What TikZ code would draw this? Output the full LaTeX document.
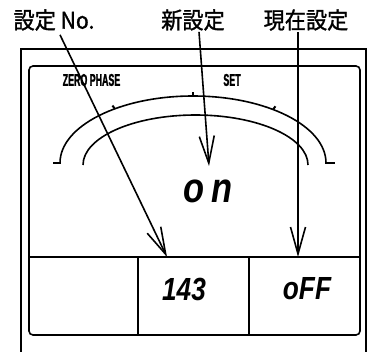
\documentclass[tikz,border=0pt]{standalone}
\usepackage{fontspec}
\usetikzlibrary{arrows.meta}
\newfontfamily\jpfont[FakeStretch=0.92,FakeBold=1.2]{Noto Sans CJK JP}
\newfontfamily\tagfont[FakeStretch=0.52,FakeBold=1.5]{Liberation Sans}
\newfontfamily\lcdfont[FakeStretch=0.82]{Liberation Sans}

\begin{document}
\begin{tikzpicture}[x=1pt,y=1pt,>={Straight Barb[length=27pt,width=15pt]},
lbl/.style={inner sep=0pt,font=\jpfont\fontsize{23}{23}\selectfont},
tag/.style={inner sep=0pt,font=\tagfont\bfseries\fontsize{17}{17}\selectfont},
lcd/.style={inner sep=0pt,font=\lcdfont\bfseries\itshape\fontsize{32}{32}\selectfont},
ln/.style={line width=1.6pt},
ptr/.style={->,line width=1.6pt}]
\useasboundingbox (0,0) rectangle (369,351);
% panel frame
\draw[ln] (21,-5) -- (21,302) -- (366,302) -- (366,-5);
\draw[ln,rounded corners=4pt] (29,16) rectangle (360,285);
\draw[ln] (29,94) -- (360,94);
\draw[ln] (138,94) -- (138,16);
\draw[ln] (249,94) -- (249,16);
% scale arcs
\draw[ln] (60,188) arc[start angle=180,end angle=0,x radius=133pt,y radius=67pt];
\draw[line width=2.6pt] (53,188) -- (61,188);
\draw[line width=2.6pt] (325,188) -- (335,188);
\draw[ln] (83,186) arc[start angle=180,end angle=0,x radius=112.5pt,y radius=50pt];
\foreach \t in {53,90,126}
  \draw[line width=2pt] (193,188) ++(\t:133 and 67) -- ++(\t:4);
% display texts
\node[tag] (zero) at (91.5,271) {ZERO PHASE};
\node[tag] (set) at (232,271) {SET};
\node[lcd,font=\lcdfont\bfseries\itshape\fontsize{42}{42}\selectfont] (newval) at (208,160) {o\,n};
\node[lcd] (setno) at (184,62) {143};
\node[lcd] (curval) at (307,62) {oFF};
% labels
\node[lbl] (lblno) at (54,331) {設定 No.};
\node[lbl] (lblnew) at (193,331) {新設定};
\node[lbl] (lblcur) at (306,331) {現在設定};
\coordinate (tipno) at (167,94);
\coordinate (tipnew) at (209,185);
\coordinate (tipcur) at (298,94);
\draw[ptr] ([xshift=6pt,yshift=-4pt]lblno.south) -- (tipno);
\draw[ptr] ([xshift=6pt,yshift=-1pt]lblnew.south) -- (tipnew);
\draw[ptr] ([xshift=-8pt,yshift=-1pt]lblcur.south) -- (tipcur);
\end{tikzpicture}
\end{document}
